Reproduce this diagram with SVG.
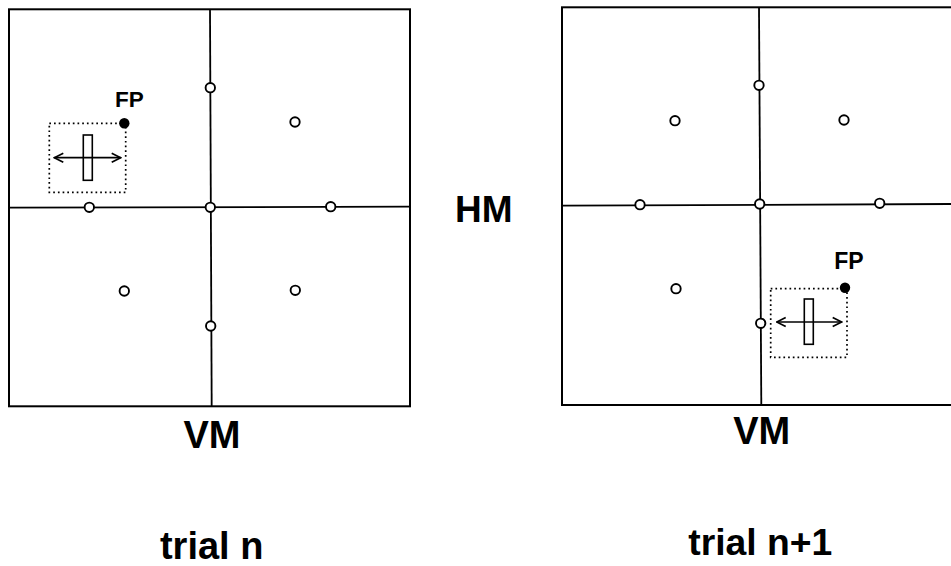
<svg xmlns="http://www.w3.org/2000/svg" width="951" height="566" viewBox="0 0 951 566">
<style>
.frame{fill:none;stroke:#000;stroke-width:2}
.axis{stroke:#000;stroke-width:1.8;fill:none}
.t{fill:#fff;stroke:#000;stroke-width:1.9}
.fp{fill:#000}
.box{fill:none;stroke:#000;stroke-width:1.7;stroke-dasharray:1.7 3}
.bar{fill:#fff;stroke:#000;stroke-width:1.6}
.arr{stroke:#000;stroke-width:1.7;fill:none;marker-start:url(#ah);marker-end:url(#ah)}
.lbl{font-family:"Liberation Sans",Arial,sans-serif;font-weight:bold;fill:#000;text-anchor:middle}
</style>
<defs>
<marker id="ah" viewBox="0 0 12 12" refX="11" refY="6" markerWidth="12" markerHeight="12" markerUnits="userSpaceOnUse" orient="auto-start-reverse">
<polyline points="2,1.5 11,6 2,10.5" fill="none" stroke="#000" stroke-width="1.7"/>
</marker>
</defs>
<rect width="951" height="566" fill="#fff"/>

<g id="panel-left">
<rect class="frame" x="9" y="9.3" width="401" height="397"/>
<line class="axis" x1="210" y1="9.3" x2="211.7" y2="406.3"/>
<line class="axis" x1="9" y1="207.7" x2="410" y2="206.7"/>
</g>
<g id="targets-left">
<circle class="t" cx="210.3" cy="87.7" r="4.7"/>
<circle class="t" cx="295" cy="122" r="4.7"/>
<circle class="t" cx="89.3" cy="207.3" r="4.7"/>
<circle class="t" cx="210.3" cy="207.3" r="4.7"/>
<circle class="t" cx="330.7" cy="206.7" r="4.7"/>
<circle class="t" cx="124.3" cy="291" r="4.7"/>
<circle class="t" cx="295.3" cy="290.3" r="4.7"/>
<circle class="t" cx="210.7" cy="326" r="4.7"/>
</g>
<g id="stimulus-left">
<rect class="box" x="49.3" y="123.3" width="76.4" height="69"/>
<rect class="bar" x="83.3" y="135" width="9" height="45.3"/>
<circle class="fp" cx="124.3" cy="123.3" r="5.2"/>
<text class="lbl" x="129.5" y="106.7" font-size="22.5">FP</text>
</g>

<g id="panel-right">
<rect class="frame" x="562" y="7.3" width="400" height="397.7"/>
<line class="axis" x1="759" y1="7.3" x2="761.3" y2="405"/>
<line class="axis" x1="562" y1="205.7" x2="951" y2="204"/>
</g>
<g id="targets-right">
<circle class="t" cx="759" cy="85.3" r="4.7"/>
<circle class="t" cx="675" cy="120.7" r="4.7"/>
<circle class="t" cx="844" cy="120" r="4.7"/>
<circle class="t" cx="640" cy="204.7" r="4.7"/>
<circle class="t" cx="759.7" cy="204" r="4.7"/>
<circle class="t" cx="879.7" cy="203.3" r="4.7"/>
<circle class="t" cx="676" cy="288.7" r="4.7"/>
<circle class="t" cx="760.7" cy="323.3" r="4.7"/>
</g>
<g id="stimulus-right">
<rect class="box" x="770.7" y="288.7" width="76.3" height="68.6"/>
<rect class="bar" x="804.3" y="299" width="9" height="45.3"/>
<circle class="fp" cx="845" cy="287.7" r="5.2"/>
<text class="lbl" x="849" y="268.7" font-size="23">FP</text>
</g>

<g id="connectors">
<line class="arr" x1="54.3" y1="157.7" x2="120.7" y2="157.7"/>
<line class="arr" x1="776.7" y1="322" x2="841.7" y2="322"/>
</g>

<g id="labels">
<text class="lbl" x="212" y="447.7" font-size="38">VM</text>
<text class="lbl" x="483.7" y="221.7" font-size="37">HM</text>
<text class="lbl" x="761.7" y="444.3" font-size="38">VM</text>
<text class="lbl" x="211.7" y="559.3" font-size="38">trial n</text>
<text class="lbl" x="760.3" y="555" font-size="37.3">trial n+1</text>
</g>
</svg>
